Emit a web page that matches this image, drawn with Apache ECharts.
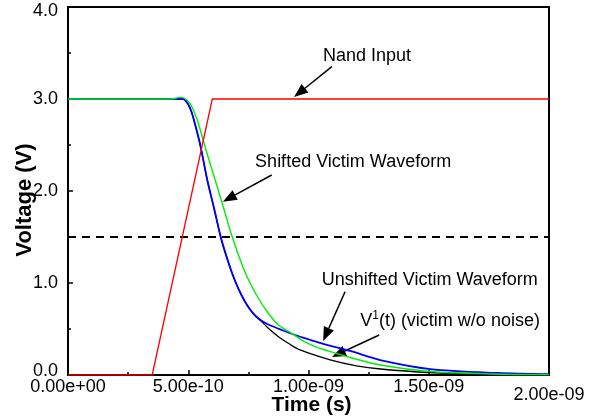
<!DOCTYPE html>
<html>
<head>
<meta charset="utf-8">
<script src="https://cdn.jsdelivr.net/npm/echarts@6/dist/echarts.min.js"></script>
<style>
  html, body { margin: 0; padding: 0; background: #fff; }
  #chart { width: 596px; height: 418px; }
</style>
</head>
<body>
<div id="chart"></div>
<script>
// time values are in ns, voltages in V
const nandTime = [0, 0.35, 0.6, 2.0];
const nandVolt = [0, 0, 3.0, 3.0];

const unshiftedTime = [0, 0.44, 0.478, 0.499, 0.515, 0.528, 0.549, 0.565, 0.579, 0.607, 0.635, 0.657, 0.682,
  0.707, 0.732, 0.757, 0.782, 0.807, 0.833, 0.889, 0.944, 1.000, 1.055, 1.173, 1.298, 1.507, 1.786, 2.0];
const unshiftedVolt = [3.0, 3.0, 3.0, 2.946, 2.848, 2.728, 2.511, 2.304, 2.12, 1.815, 1.50, 1.304, 1.109,
  0.946, 0.815, 0.712, 0.636, 0.587, 0.549, 0.489, 0.435, 0.388, 0.345, 0.261, 0.163, 0.065, 0.022, 0.008];

// victim without noise: follows the unshifted waveform until ~0.8 ns
const noNoiseTime = [0, 0.44, 0.478, 0.499, 0.515, 0.528, 0.549, 0.565, 0.579, 0.607, 0.635, 0.657, 0.682,
  0.707, 0.732, 0.757, 0.782, 0.807, 0.833, 0.875, 0.916, 0.965, 1.09, 1.2, 1.3, 1.5, 1.75, 2.0];
const noNoiseVolt = [3.0, 3.0, 3.0, 2.946, 2.848, 2.728, 2.511, 2.304, 2.12, 1.815, 1.50, 1.304, 1.109,
  0.946, 0.815, 0.712, 0.636, 0.576, 0.508, 0.416, 0.345, 0.272, 0.165, 0.10, 0.065, 0.027, 0.009, 0.003];

const shiftedTime = [0, 0.432, 0.465, 0.482, 0.507, 0.535, 0.556, 0.576, 0.597, 0.640, 0.683, 0.729,
  0.757, 0.791, 0.833, 0.875, 0.930, 0.972, 1.028, 1.069, 1.173, 1.298, 1.507, 1.756, 2.0];
const shiftedVolt = [3.0, 3.0, 3.018, 3.011, 2.953, 2.79, 2.609, 2.427, 2.247, 1.877, 1.50, 1.163,
  1.0, 0.837, 0.671, 0.543, 0.453, 0.380, 0.308, 0.272, 0.19, 0.109, 0.038, 0.011, 0.004];

const thresholdTime = [0, 2.0];
const thresholdVolt = [1.5, 1.5];

const xTicks = [0, 0.5, 1.0, 1.5, 2.0];
const yTicks = [0, 1, 2, 3, 4];

// annotations: text anchor and arrow from -> to, all in data units (ns, V)
const notes = [
  { text: 'Nand Input', at: [1.243, 3.47], align: 'center', from: [1.097, 3.351], to: [0.940, 3.022] },
  { text: 'Shifted Victim Waveform', at: [0.778, 2.315], align: 'left', from: [0.847, 2.174], to: [0.644, 1.884] },
  { text: 'Unshifted Victim Waveform', at: [1.055, 1.033], align: 'left', from: [1.152, 0.905], to: [1.061, 0.37] },
  { text: '{n|V}{sup|1}{n|(t) (victim w/o noise)}', at: [1.215, 0.598], align: 'left', from: [1.294, 0.435], to: [1.098, 0.196] }
];

const FONT = 'Liberation Sans, Arial, Helvetica, sans-serif';

function zip(xs, ys) {
  return xs.map((x, i) => [x, ys[i]]);
}

// 5.00e-10 style labels, two digit exponent
function sci(v) {
  const s = (v * 1e-9).toExponential(2);
  const parts = s.split('e');
  const sign = parts[1][0];
  return parts[0] + 'e' + sign + parts[1].slice(1).padStart(2, '0');
}

const chart = echarts.init(document.getElementById('chart'), null, { renderer: 'canvas' });

function lineSeries(name, data, color, width, dash, smooth) {
  return {
    name: name,
    type: 'line',
    data: data,
    showSymbol: false,
    symbol: 'none',
    silent: true,
    smooth: smooth || false,
    lineStyle: { color: color, width: width, type: dash || 'solid' }
  };
}

const option = {
  animation: false,
  backgroundColor: '#fff',
  grid: { left: 68, top: 7, right: 47, bottom: 43, show: true, borderColor: '#000', borderWidth: 2 },
  xAxis: {
    type: 'value',
    min: xTicks[0],
    max: xTicks[xTicks.length - 1],
    interval: 0.5,
    axisLine: { show: true, onZero: false, lineStyle: { color: '#000', width: 2 } },
    axisTick: { show: true, inside: true, length: 5, lineStyle: { color: '#000', width: 1.5 } },
    minorTick: { show: true, splitNumber: 2, length: 3, lineStyle: { color: '#000', width: 1.5 } },
    splitLine: { show: false },
    axisLabel: {
      color: '#000', fontSize: 18, fontFamily: FONT, margin: 3,
      formatter: function (v) {
        return v === 2 ? '{low|' + sci(v) + '}' : sci(v);
      },
      rich: { low: { color: '#000', fontSize: 18, fontFamily: FONT, padding: [8, 0, 0, 0] } }
    }
  },
  yAxis: {
    type: 'value',
    min: yTicks[0],
    max: yTicks[yTicks.length - 1],
    interval: 1,
    axisLine: { show: true, onZero: false, lineStyle: { color: '#000', width: 2 } },
    axisTick: { show: true, inside: true, length: 5, lineStyle: { color: '#000', width: 1.5 } },
    minorTick: { show: true, splitNumber: 2, length: 3, lineStyle: { color: '#000', width: 1.5 } },
    splitLine: { show: false },
    axisLabel: {
      color: '#000', fontSize: 18, fontFamily: FONT, margin: 10,
      formatter: function (v) {
        if (v === 4) return '{top|4.0}';
        if (v === 0) return '{bot|0.0}';
        return v.toFixed(1);
      },
      rich: {
        top: { color: '#000', fontSize: 18, fontFamily: FONT, padding: [9, 0, 0, 0] },
        bot: { color: '#000', fontSize: 18, fontFamily: FONT, padding: [0, 0, 8, 0] }
      }
    }
  },
  series: [
    lineSeries('V1(t) (victim w/o noise)', zip(noNoiseTime, noNoiseVolt), '#000000', 1.3, null, 0.3),
    lineSeries('Unshifted Victim Waveform', zip(unshiftedTime, unshiftedVolt), '#0000ff', 1.8, null, 0.3),
    lineSeries('Shifted Victim Waveform', zip(shiftedTime, shiftedVolt), '#00ee00', 1.4, null, 0.3),
    lineSeries('Threshold', zip(thresholdTime, thresholdVolt), '#000000', 2, [8, 6]),
    lineSeries('Nand Input', zip(nandTime, nandVolt), '#ff0000', 1.3)
  ]
};

chart.setOption(option);

// titles and arrows, placed through the chart's own scales
function drawNotes() {
  const els = [];
  notes.forEach(function (n) {
    const p = chart.convertToPixel({ gridIndex: 0 }, n.at);
    const a = chart.convertToPixel({ gridIndex: 0 }, n.from);
    const b = chart.convertToPixel({ gridIndex: 0 }, n.to);
    els.push({
      type: 'text', x: p[0], y: p[1], silent: true,
      style: {
        text: n.text, fill: '#000', font: '18px ' + FONT,
        align: n.align, verticalAlign: 'middle',
        rich: {
          n: { fontSize: 18, fontFamily: FONT, lineHeight: 20, verticalAlign: 'bottom', fill: '#000' },
          sup: { fontSize: 12, fontFamily: FONT, lineHeight: 12, verticalAlign: 'top', fill: '#000' }
        }
      }
    });
    const dx = b[0] - a[0], dy = b[1] - a[1];
    const len = Math.sqrt(dx * dx + dy * dy);
    const ux = dx / len, uy = dy / len;
    const headLen = 14, headHalf = 5.5;
    const bx = b[0] - ux * headLen, by = b[1] - uy * headLen;
    els.push({
      type: 'line', silent: true,
      shape: { x1: a[0], y1: a[1], x2: bx, y2: by },
      style: { stroke: '#000', lineWidth: 1.5 }
    });
    els.push({
      type: 'polygon', silent: true,
      shape: { points: [[b[0], b[1]], [bx - uy * headHalf, by + ux * headHalf], [bx + uy * headHalf, by - ux * headHalf]] },
      style: { fill: '#000' }
    });
  });
  const mid = chart.convertToPixel({ gridIndex: 0 }, [1.0, 2.0]);
  els.push({
    type: 'text', x: 25, y: 200, rotation: Math.PI / 2, silent: true,
    style: { text: 'Voltage (V)', fill: '#000', font: 'bold 22px ' + FONT, align: 'center', verticalAlign: 'middle' }
  });
  els.push({
    type: 'text', x: mid[0] + 3, y: 405, silent: true,
    style: { text: 'Time (s)', fill: '#000', font: 'bold 21px ' + FONT, align: 'center', verticalAlign: 'middle' }
  });
  chart.setOption({ graphic: { elements: els } });
}

drawNotes();
</script>
</body>
</html>
